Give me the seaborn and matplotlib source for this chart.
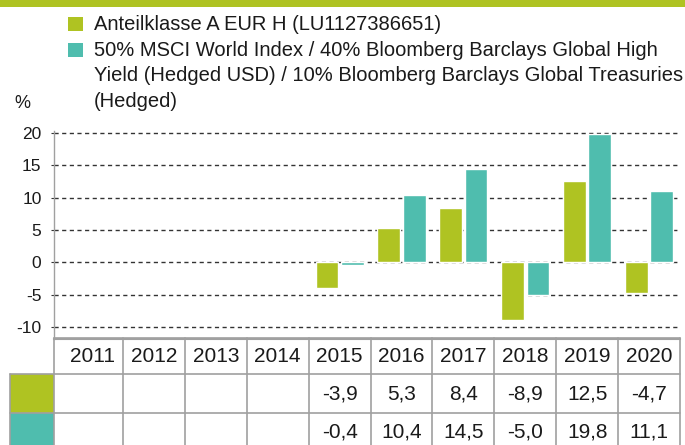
import numpy as np
import pandas as pd
import matplotlib
matplotlib.use("Agg")
import matplotlib.pyplot as plt
import seaborn as sns
from matplotlib.patches import Rectangle

# data
years = ["2011", "2012", "2013", "2014", "2015", "2016", "2017", "2018", "2019", "2020"]
fund = [np.nan, np.nan, np.nan, np.nan, -3.9, 5.3, 8.4, -8.9, 12.5, -4.7]
bench = [np.nan, np.nan, np.nan, np.nan, -0.4, 10.4, 14.5, -5.0, 19.8, 11.1]
series_names = [
    "Anteilklasse A EUR H (LU1127386651)",
    "50% MSCI World Index / 40% Bloomberg Barclays Global High\n"
    "Yield (Hedged USD) / 10% Bloomberg Barclays Global Treasuries\n"
    "(Hedged)",
]
yticks = [-10, -5, 0, 5, 10, 15, 20]

LIME = "#AFC322"
TEAL = "#4FBDAE"
GRID = "#333333"
LINE = "#a0a0a0"

sns.set_theme(style="white")
plt.rcParams["font.family"] = ["Liberation Sans", "DejaVu Sans"]

df = pd.DataFrame({
    "year": years * 2,
    "series": [series_names[0]] * len(years) + [series_names[1]] * len(years),
    "value": fund + bench,
})

W, H = 685, 445
fig = plt.figure(figsize=(W / 100, H / 100), dpi=100)

def fx(px):
    return px / W

def fy(py):
    return 1 - py / H

# main chart
ax = fig.add_axes([fx(54), fy(339), fx(626), (339 - 131) / H])
sns.barplot(data=df, x="year", y="value", hue="series", order=years,
            hue_order=series_names, palette=[LIME, TEAL], width=0.82, gap=0.1,
            saturation=1, legend=False, ax=ax, zorder=3)
ax.set_xlim(-0.615, 9.5)
ax.set_ylim(-11.85, 20.3)
ax.set_yticks(yticks)
ax.set_yticklabels([str(t) for t in yticks], fontsize=12.5, color="#1a1a1a")
ax.set_xlabel("")
ax.set_ylabel("")
ax.set_xticks([])
ax.set_xticks(np.arange(0.5, 9.5, 1.0), minor=True)
ax.tick_params(axis="x", which="minor", length=3, width=1, color=LINE, direction="out")
ax.tick_params(axis="y", length=2, width=0.8, color=GRID, pad=7, left=True)
for y in yticks:
    ax.axhline(y, color=GRID, lw=1.0, ls=(0, (3, 2.5)), zorder=1)
for s in ["top", "right"]:
    ax.spines[s].set_visible(False)
ax.spines["left"].set_color(LINE)
ax.spines["bottom"].set_color(LINE)
ax.spines["left"].set_linewidth(1)
ax.spines["bottom"].set_linewidth(1.5)

# table below chart, x shares the chart's category scale, y in pixels
tab = fig.add_axes([fx(54), 0, fx(626), (H - 338) / H])
tab.set_xlim(ax.get_xlim())
tab.set_ylim(H - 338, 0)
tab.axis("off")
left = -0.615
sw_left = left - 44 / 61.9
row_edges = [0, 36, 75, 114]
for i, col in enumerate([LIME, TEAL]):
    tab.add_patch(Rectangle((sw_left, row_edges[i + 1]), left - sw_left,
                            row_edges[i + 2] - row_edges[i + 1],
                            facecolor=col, edgecolor="none", clip_on=False))
kw = dict(color=LINE, lw=1.2, clip_on=False)
tab.plot([left, 9.5], [0, 0], **kw)
tab.plot([sw_left, 9.5], [36, 36], **kw)
tab.plot([sw_left, 9.5], [75, 75], **kw)
tab.plot([sw_left, sw_left], [36, 114], **kw)
for xb in [left] + list(np.arange(0.5, 10, 1.0)):
    tab.plot([xb, xb], [0, 114], **kw)
for i, yr in enumerate(years):
    tab.text(i, 19, yr, ha="center", va="center", fontsize=15, color="#1a1a1a")
    for vals, yc in [(fund, 55.5), (bench, 94)]:
        if not np.isnan(vals[i]):
            tab.text(i, yc, f"{vals[i]:.1f}".replace(".", ","), ha="center",
                     va="center", fontsize=15, color="#1a1a1a")

# legend and header band
fig.patches.append(Rectangle((0, fy(7)), 1, 7 / H, transform=fig.transFigure,
                             facecolor=LIME, edgecolor="none"))
for i, (name, col) in enumerate(zip(series_names, [LIME, TEAL])):
    top = 17 + 26 * i
    fig.patches.append(Rectangle((fx(68), fy(top + 14)), fx(15), 14 / H,
                                 transform=fig.transFigure, facecolor=col,
                                 edgecolor="none"))
    fig.text(fx(94), fy(top - 2), name, ha="left", va="top", fontsize=14.5,
             linespacing=1.42, color="#1a1a1a")
fig.text(fx(14), fy(103), "%", ha="left", va="center", fontsize=13, color="#1a1a1a")

fig.savefig("out.png", dpi=100)
